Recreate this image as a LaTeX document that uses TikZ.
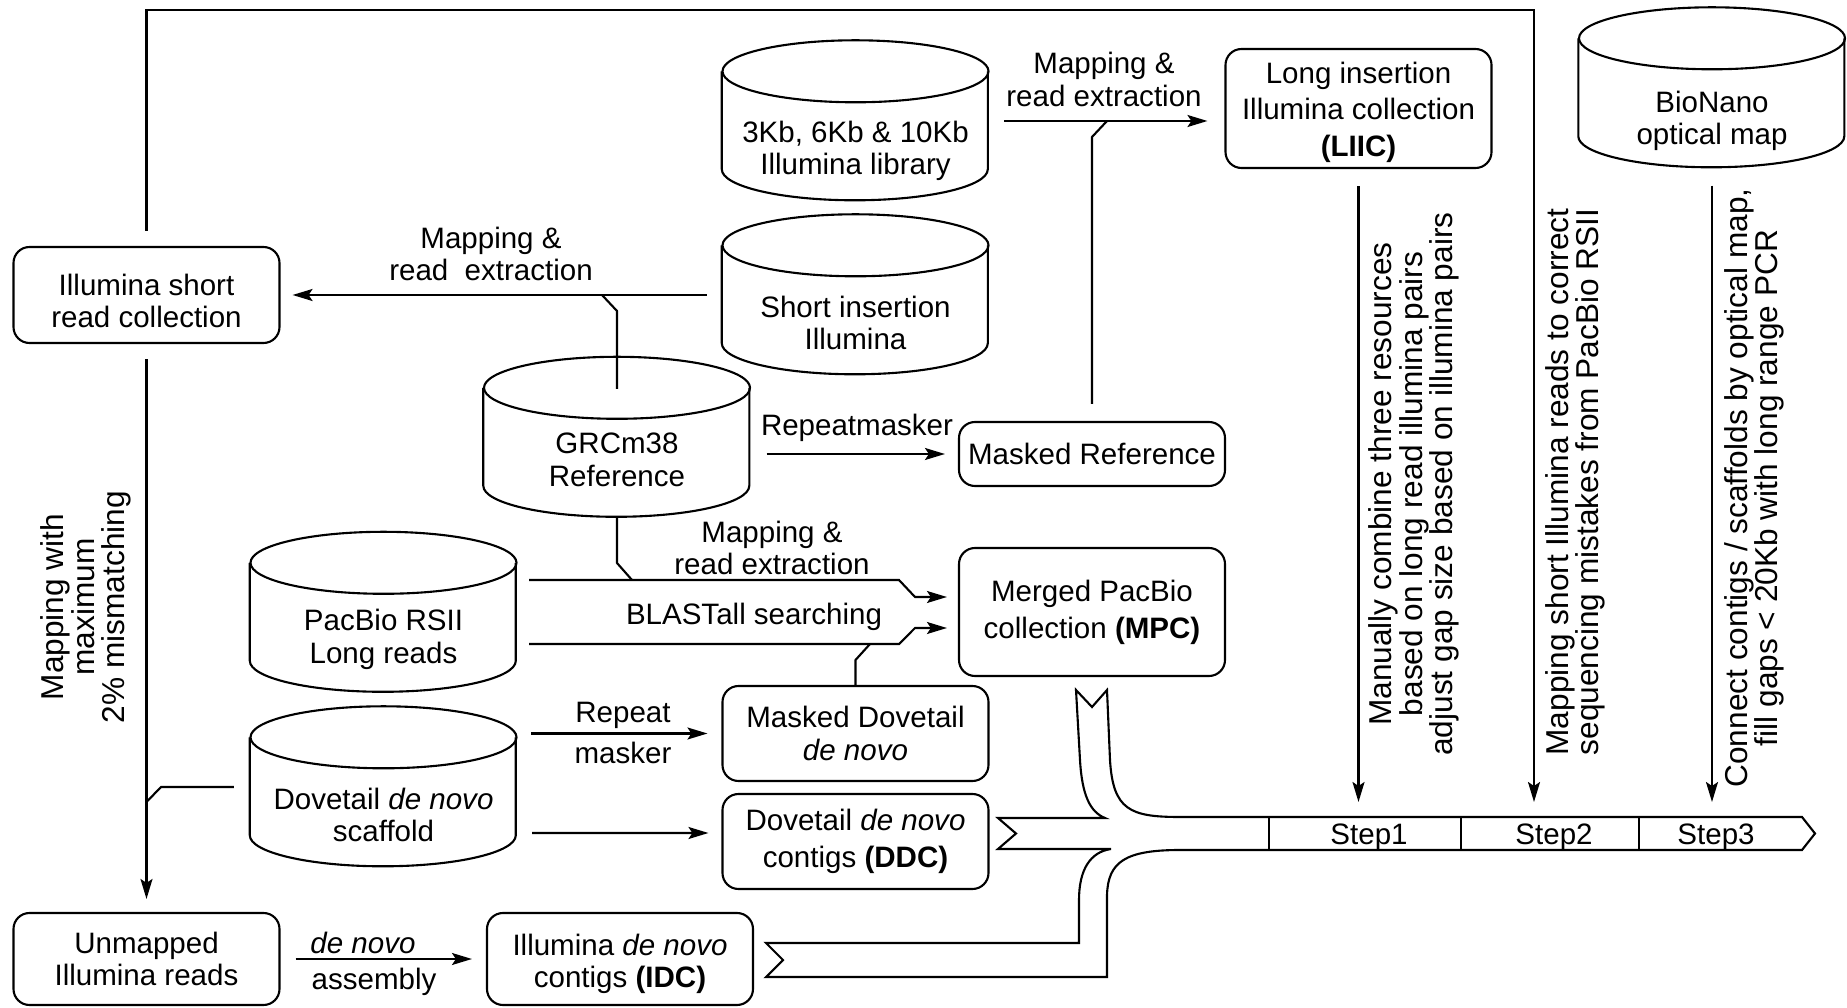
\documentclass[tikz,border=0pt]{standalone}
\usepackage{fontspec}
\setmainfont{Liberation Sans}
\usetikzlibrary{arrows.meta,calc,positioning}
\tikzset{
  line/.style={line width=0.6pt},
  conn/.style={line width=0.6pt},
  box/.style={draw,line width=0.6pt,rounded corners=0.16cm,minimum width=2.66cm,inner sep=0pt,align=center},
  drum/.style={minimum width=2.66cm,minimum height=1.6cm,inner sep=0pt},
  txt/.style={align=center,inner sep=1pt},
  rot/.style={rotate=90,align=center,inner sep=1pt,font=\fontsize{9}{8.7}\selectfont},
}
\newcommand{\dbdrum}[5][0.27]{%
  \node[drum] (#2) at (#3,#4) {};
  \draw[line] (#2.north west) ++(0,0.31) -- ++(0,0.98)
    arc[start angle=180,end angle=0,x radius=1.33,y radius=0.31] -- ++(0,-0.98);
  \draw[line] (#2.north) ++(0,0.31) ellipse [x radius=1.33,y radius=0.31];
  \node[txt] (#2-t) at ($(#2.center)+(0,#1)$) {#5};}

\begin{document}
\begin{tikzpicture}[x=1cm,y=-1cm,>={Stealth[length=2mm,width=1.2mm,inset=0.4mm]},font=\fontsize{8.4}{9.3}\selectfont]
  \useasboundingbox (0,0) rectangle (18.47,10.08);
  % data stores
  \dbdrum[0.30]{lib}{8.555}{1.21}{3Kb, 6Kb \& 10Kb\\Illumina library}
  \dbdrum[0.28]{sins}{8.555}{2.95}{Short insertion\\Illumina}
  \dbdrum[0.22]{grc}{6.17}{4.375}{GRCm38\\Reference}
  \dbdrum{pac}{3.835}{6.125}{PacBio RSII\\Long reads}
  \dbdrum[0.28]{dov}{3.835}{7.87}{Dovetail \textit{de novo}\\scaffold}
  \dbdrum[0.33]{bio}{17.12}{0.88}{BioNano\\optical map}
  % collections
  \node[box,minimum height=0.96cm] (isr) at (1.465,2.95) {\rule{0pt}{9.5pt}Illumina short\\read collection};
  \node[box,minimum height=1.19cm] (liic) at (13.585,1.085) {\rule{0pt}{8.2pt}Long insertion\\[1pt]Illumina collection\\[1pt]\textbf{(LIIC)}};
  \node[box,minimum height=0.64cm] (mref) at (10.92,4.54) {Masked Reference};
  \node[box,minimum height=1.28cm] (mpc) at (10.92,6.12) {Merged PacBio\\[1.2pt]collection \textbf{(MPC)}};
  \node[box,minimum height=0.95cm] (mdov) at (8.555,7.335) {Masked Dovetail\\\textit{de novo}};
  \node[box,minimum height=0.95cm] (ddc) at (8.555,8.415) {Dovetail \textit{de novo}\\[1.4pt]contigs \textbf{(DDC)}};
  \node[box,minimum height=0.92cm] (unm) at (1.465,9.59) {Unmapped\\Illumina reads};
  \node[box,minimum height=0.92cm] (idc) at (6.20,9.59) {\rule{0pt}{8.8pt}Illumina \textit{de novo}\\contigs \textbf{(IDC)}};
  % long insertion reads
  \draw[conn,->] ([xshift=0.15cm]lib.east) -- ($(liic.west |- lib.east)+(-0.17,0)$);
  \draw[conn] ([yshift=0.17cm]mref.north) -- (10.92,1.37) -- (11.07,1.21);
  \node[txt] (m1) at (11.04,0.795) {Mapping \&\\read extraction};
  % short insertion reads
  \draw[conn,->] ([xshift=-0.15cm]sins.west) -- ([xshift=0.12cm]isr.east);
  \draw[conn] ([yshift=-0.32cm]grc.north) -- (6.17,3.11) -- (6.02,2.95);
  \node[txt] (m2) at (4.91,2.54) {Mapping \&\\read\ \ extraction};
  % masking
  \draw[conn,->] ($(grc.east |- mref.west)+(0.16,0)$) -- ([xshift=-0.13cm]mref.west);
  \node[txt] (rm) at (8.57,4.28) {Repeatmasker};
  % pacbio reads
  \draw[conn,->] ([xshift=0.12cm,yshift=0.325cm]pac.east) -- (8.99,5.80) -- (9.15,5.97) -- ([xshift=-0.11cm,yshift=0.15cm]mpc.west);
  \draw[conn] (grc.south) -- (6.17,5.63) -- (6.32,5.80);
  \node[txt] (m3) at (7.72,5.48) {Mapping \&\\read extraction};
  \draw[conn,->] ([xshift=0.12cm,yshift=-0.315cm]pac.east) -- (8.99,6.44) -- (9.15,6.28) -- ([xshift=-0.11cm,yshift=-0.16cm]mpc.west);
  \draw[conn] (mdov.north) -- (8.555,6.60) -- (8.70,6.44);
  \node[txt] (bl) at (7.54,6.17) {BLASTall searching};
  % dovetail
  \draw[conn,->] ($(dov.east |- mdov.west)+(0.14,0)$) -- ([xshift=-0.14cm]mdov.west);
  \node[txt] (rp) at (6.23,7.15) {Repeat};
  \node[txt] (mk) at (6.23,7.53) {masker};
  \draw[conn,->] ([xshift=0.15cm,yshift=-0.46cm]dov.east) -- ([xshift=-0.13cm,yshift=0.085cm]ddc.west);
  \draw[conn] ([xshift=-0.16cm]dov.west) -- (1.61,7.87) -- (1.465,8.02);
  % unmapped reads
  \draw[conn,->] ([yshift=-0.15cm]isr.south) -- ([yshift=0.13cm]unm.north);
  \node[rot] (mm) at (0.86,6.07) {Mapping with\\maximum\\2\% mismatching};
  \draw[conn,->] ([xshift=0.15cm]unm.east) -- ([xshift=-0.14cm]idc.west);
  \node[txt] (dn) at (3.63,9.43) {\textit{de novo}};
  \node[txt] (as) at (3.74,9.82) {assembly};
  % merge into steps
  \draw[line] (10.76,6.90) -- (10.92,7.07) -- (11.07,6.90) -- (11.10,7.60)
    .. controls (11.13,8.10) and (11.30,8.17) .. (11.80,8.17) -- (18.02,8.17) -- (18.15,8.335) -- (18.02,8.50) -- (11.80,8.50)
    .. controls (11.25,8.50) and (11.08,8.62) .. (11.07,8.95) -- (11.07,9.77) -- (7.66,9.77) -- (7.83,9.60) -- (7.66,9.43) -- (10.79,9.43) -- (10.79,9.00)
    .. controls (10.79,8.70) and (10.90,8.52) .. (11.11,8.49) -- (9.98,8.49) -- (10.16,8.335) -- (9.98,8.18) -- (11.05,8.18)
    .. controls (10.90,8.12) and (10.82,7.95) .. (10.80,7.60) -- cycle;
  \foreach \xd in {12.69,14.61,16.39}
    \draw[line] (\xd,8.17) -- (\xd,8.50);
  \node[txt] (st1) at (13.69,8.37) {Step1};
  \node[txt] (st2) at (15.54,8.37) {Step2};
  \node[txt] (st3) at (17.16,8.37) {Step3};
  \coordinate (s1in) at (13.585,8.02);
  \coordinate (s2in) at (15.34,8.02);
  \coordinate (s3in) at (17.12,8.02);
  % steps
  \draw[conn,->] ([yshift=-0.17cm]liic.south) -- (s1in);
  \draw[conn,->] ([yshift=0.15cm]isr.north) |- (15.34,0.10) -- (s2in);
  \draw[conn,->] ([yshift=-0.17cm]bio.south) -- (s3in);
  \node[rot] (rt1) at (14.14,4.84) {Manually combine three resources\\based on long read illumina pairs\\adjust gap size based on illumina pairs};
  \node[rot] (rt2) at (15.755,4.82) {Mapping short Illumina reads to correct\\sequencing mistakes from PacBio RSII};
  \node[rot] (rt3) at (17.545,4.88) {Connect contigs / scaffolds by optical map,\\fill gaps < 20Kb with long range PCR};
\end{tikzpicture}
\end{document}
